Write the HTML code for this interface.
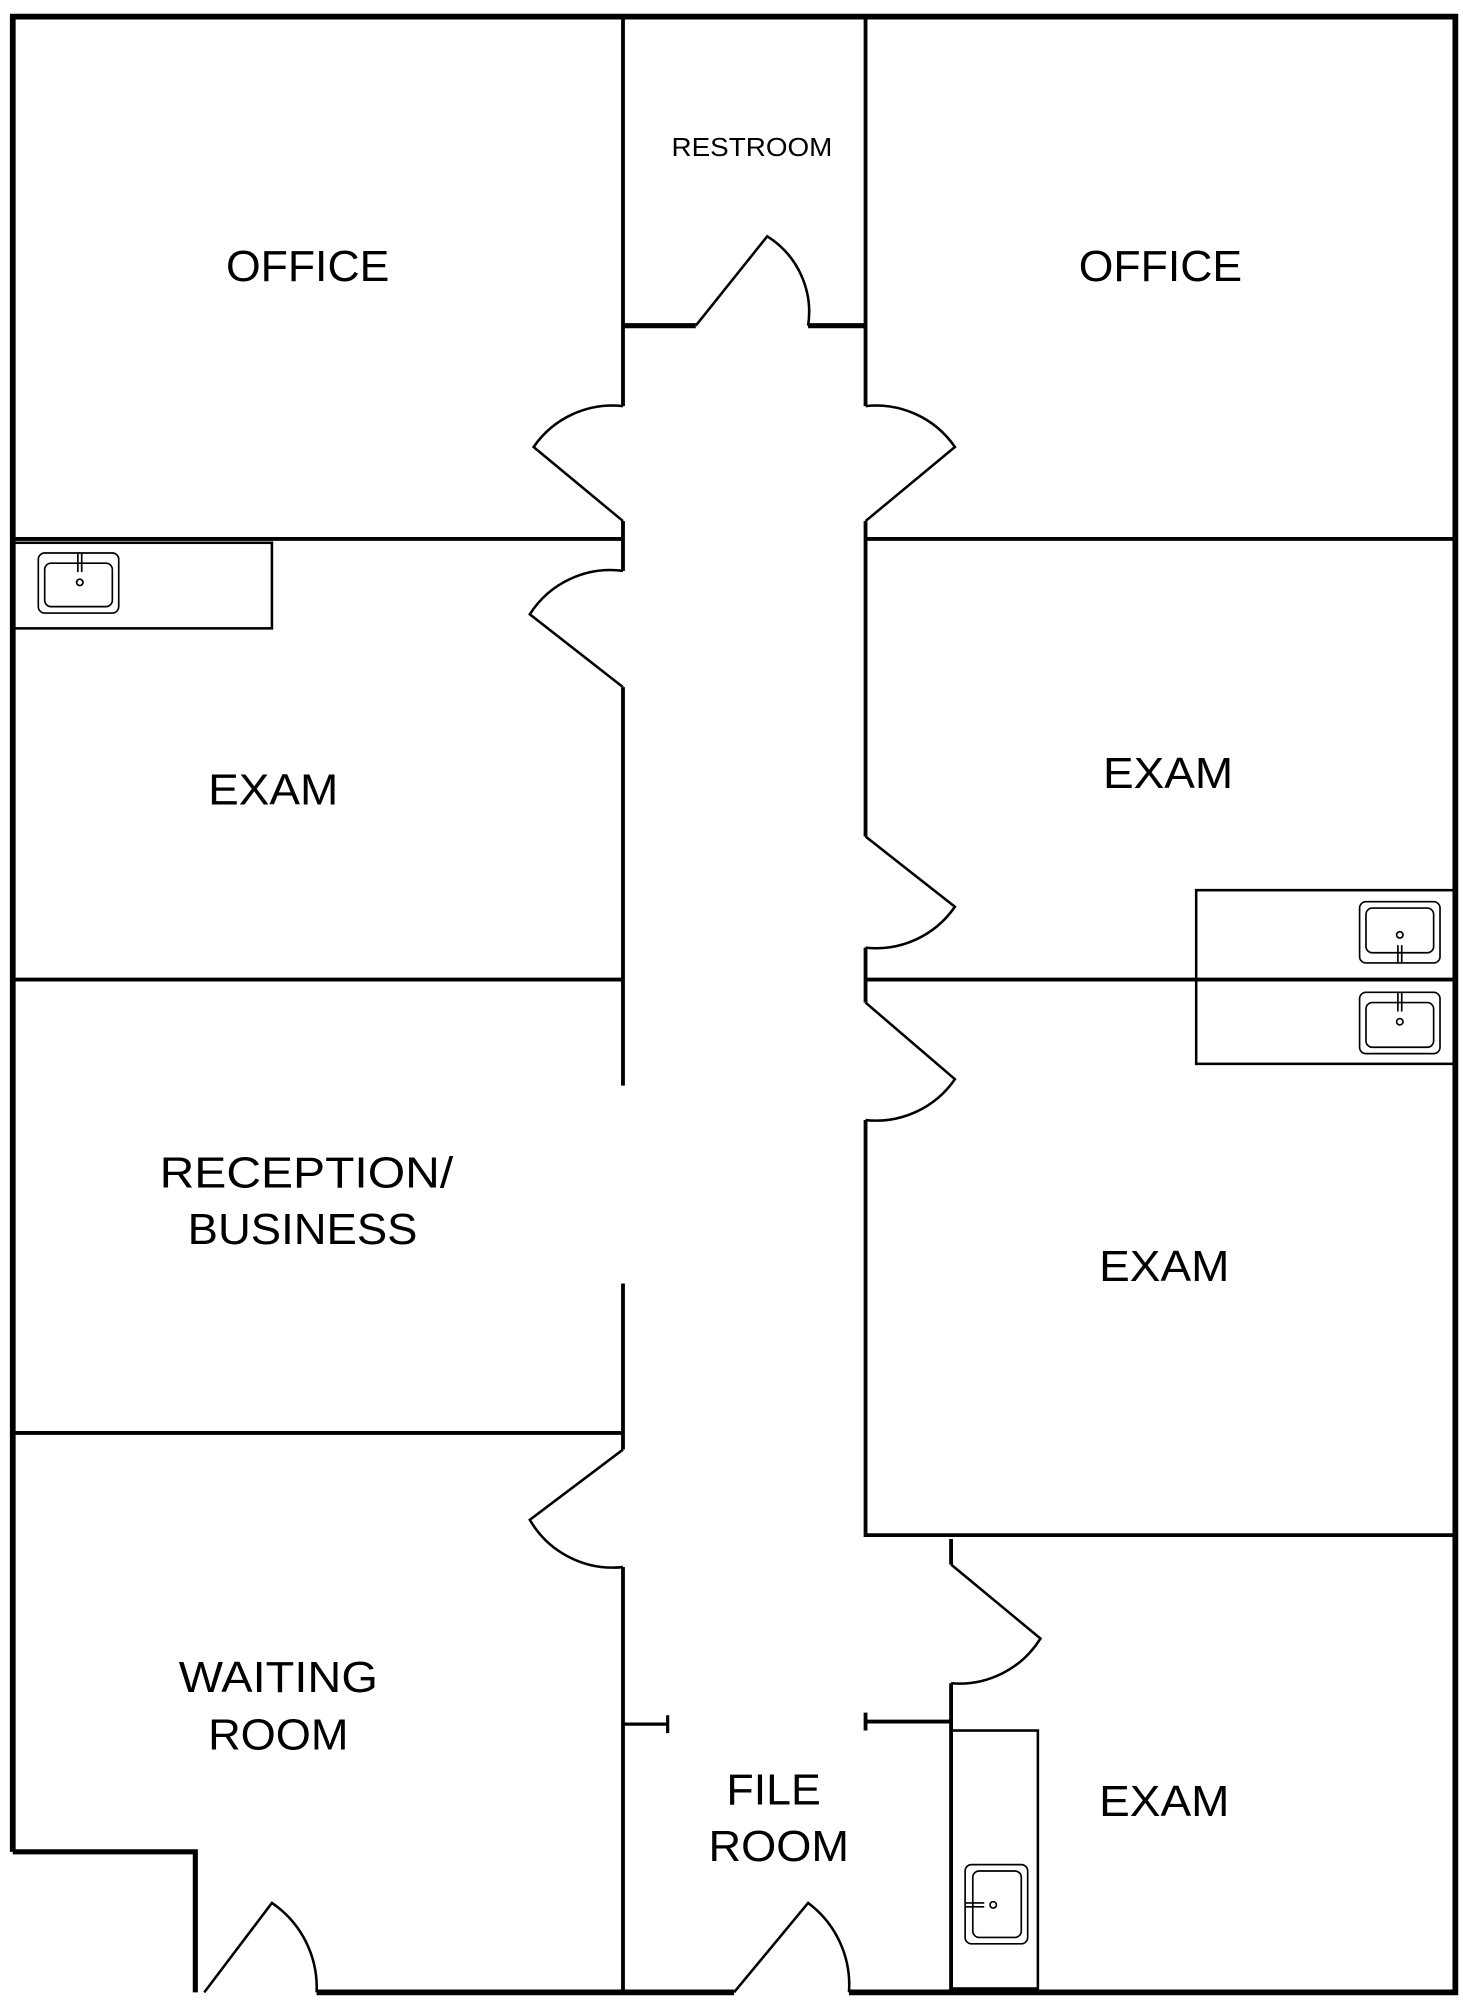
<!DOCTYPE html>
<html><head><meta charset="utf-8"><style>html,body{margin:0;padding:0;background:#fff}svg{display:block}</style></head>
<body>
<svg width="1463" height="2000" viewBox="0 0 1146 1566" preserveAspectRatio="none" xmlns="http://www.w3.org/2000/svg">
<rect width="1146" height="1566" fill="#fff"/>
<g fill="none" stroke="#000" stroke-width="3" stroke-linecap="butt">
<!-- outer -->
<path d="M10,1450 V13 H1140 V1560 H665" stroke-width="4.5"/>
<path d="M575,1560 H248" stroke-width="4.5"/>
<path d="M153,1560 V1450 H10" stroke-width="4"/>
<!-- left corridor wall -->
<path d="M488,13 V318"/>
<path d="M488,408 V447"/>
<path d="M488,538 V850"/>
<path d="M488,1005 V1135"/>
<path d="M488,1227 V1560"/>
<!-- right corridor wall -->
<path d="M678,13 V318"/>
<path d="M678,408 V655"/>
<path d="M678,742 V785"/>
<path d="M678,877 V1202 H1140"/>
<path d="M745,1205 V1225"/>
<path d="M745,1318 V1560"/>
<!-- horizontals -->
<path d="M10,422 H488 M678,422 H1140"/>
<path d="M10,767 H488 M678,767 H1140" />
<path d="M10,1122 H488"/>
<!-- restroom bottom -->
<path d="M488,255 H545 M633,255 H678" stroke-width="4"/>
<!-- doors -->
<g stroke-width="2">
<path d="M545,255 L601,185 A70,70 0 0 1 633,255" />
<path d="M488,408 L418,350 A75,75 0 0 1 488,318"/>
<path d="M678,408 L748,350 A75,75 0 0 0 678,318"/>
<path d="M488,538 L415,481 A75,75 0 0 1 488,447"/>
<path d="M678,655 L748,710 A75,75 0 0 1 678,742"/>
<path d="M678,785 L748,845 A75,75 0 0 1 678,877"/>
<path d="M488,1135 L415,1190 A75,75 0 0 0 488,1227"/>
<path d="M745,1225 L815,1283 A75,75 0 0 1 745,1318"/>
<path d="M160,1560 L213,1490 A80,80 0 0 1 248,1560"/>
<path d="M575,1560 L633,1490 A80,80 0 0 1 665,1560"/>
</g>
<!-- file room stubs -->
<path d="M488,1350 H523 M523,1343 V1357" stroke-width="2.5"/>
<path d="M678,1348 H745 M678,1341 V1355" stroke-width="3"/>
<!-- counters -->
<g stroke-width="2">
<rect x="10" y="425" width="203" height="67"/>
<rect x="937" y="697" width="203" height="70"/>
<rect x="937" y="767" width="203" height="66"/>
<rect x="745" y="1355" width="68" height="202"/>
</g>
<!-- sinks -->
<g stroke-width="1.3">
<rect x="30" y="433" width="63" height="47" rx="5"/>
<rect x="35" y="441" width="53" height="34" rx="5"/>
<path d="M61,433 V448 M64,433 V448"/><circle cx="62.5" cy="456" r="2.5"/>
<rect x="1065" y="706" width="63" height="48" rx="5"/>
<rect x="1070" y="711" width="53" height="35" rx="5"/>
<path d="M1095,740 V754 M1098,740 V754"/><circle cx="1096.5" cy="732" r="2.5"/>
<rect x="1065" y="777" width="63" height="48" rx="5"/>
<rect x="1070" y="785" width="53" height="35" rx="5"/>
<path d="M1095,777 V792 M1098,777 V792"/><circle cx="1096.5" cy="800" r="2.5"/>
<rect x="756" y="1460" width="49" height="62" rx="5"/>
<rect x="762" y="1465" width="38" height="52" rx="5"/>
<path d="M756,1490 H771 M756,1493 H771"/><circle cx="778" cy="1491.5" r="2.5"/>
</g>
</g>
<g font-family="'Liberation Sans', sans-serif" fill="#000" text-anchor="middle" font-size="34">
<text x="241" y="220" textLength="128" lengthAdjust="spacingAndGlyphs">OFFICE</text>
<text x="909" y="220" textLength="128" lengthAdjust="spacingAndGlyphs">OFFICE</text>
<text x="589" y="122" font-size="20" textLength="126" lengthAdjust="spacingAndGlyphs">RESTROOM</text>
<text x="214" y="630" textLength="102" lengthAdjust="spacingAndGlyphs">EXAM</text>
<text x="915" y="617" textLength="102" lengthAdjust="spacingAndGlyphs">EXAM</text>
<text x="240" y="930" textLength="230" lengthAdjust="spacingAndGlyphs">RECEPTION/</text>
<text x="237" y="974" textLength="180" lengthAdjust="spacingAndGlyphs">BUSINESS</text>
<text x="912" y="1003" textLength="102" lengthAdjust="spacingAndGlyphs">EXAM</text>
<text x="218" y="1325" textLength="156" lengthAdjust="spacingAndGlyphs">WAITING</text>
<text x="218" y="1370" textLength="110" lengthAdjust="spacingAndGlyphs">ROOM</text>
<text x="606" y="1413" textLength="74" lengthAdjust="spacingAndGlyphs">FILE</text>
<text x="610" y="1457" textLength="110" lengthAdjust="spacingAndGlyphs">ROOM</text>
<text x="912" y="1422" textLength="102" lengthAdjust="spacingAndGlyphs">EXAM</text>
</g>
</svg>
</body></html>
